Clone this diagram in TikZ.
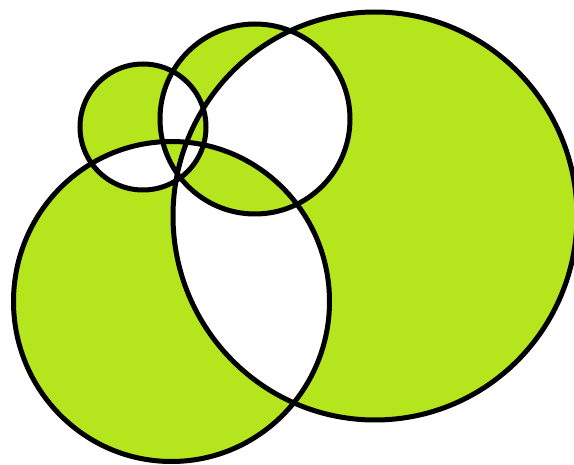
\documentclass[tikz,border=0pt]{standalone}
\usepackage{tikz}

\definecolor{limegreen}{RGB}{181,230,29}

\begin{document}
\begin{tikzpicture}[
  x=1pt, y=-1pt,
  ring/.style={draw=black, line width=5pt},
  lobe/.style={fill=limegreen, even odd rule},
]
\useasboundingbox (0,0) rectangle (574,465);

\coordinate (csmall) at (143,127);
\coordinate (cmid) at (255,119);
\coordinate (cbig) at (375,216);
\coordinate (clow) at (171.5,301.5);

\fill[lobe] (csmall) circle[radius=63]
  (cmid) circle[radius=95]
  (cbig) ellipse[x radius=202, y radius=204]
  (clow) ellipse[x radius=158, y radius=160];

\draw[ring] (csmall) circle[radius=63];
\draw[ring] (cmid) circle[radius=95];
\draw[ring] (cbig) ellipse[x radius=202, y radius=204];
\draw[ring] (clow) ellipse[x radius=158, y radius=160];

\end{tikzpicture}
\end{document}
